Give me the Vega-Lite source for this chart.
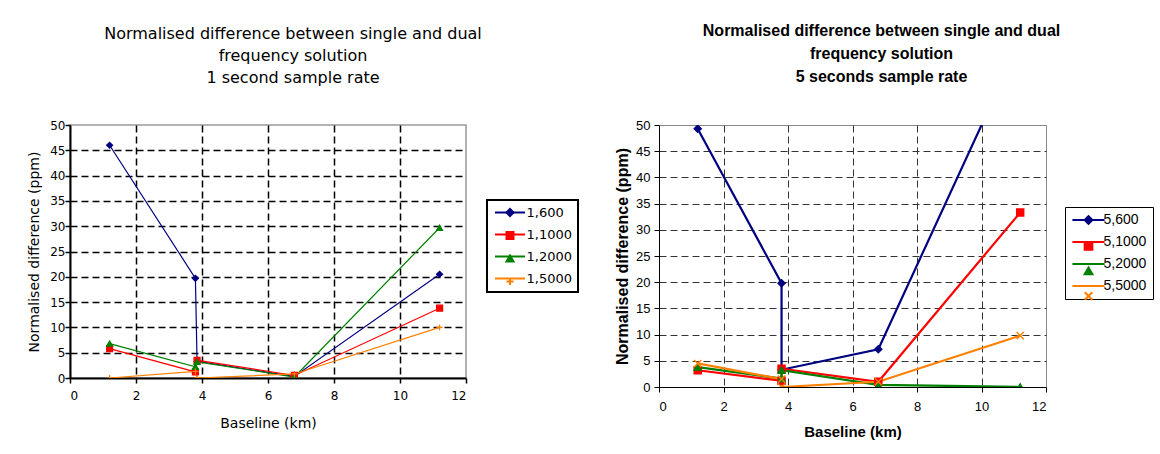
{
  "$schema": "https://vega.github.io/schema/vega-lite/v6.json",
  "background": "white",
  "padding": {"left": 26, "top": 22, "right": 3, "bottom": 5},
  "spacing": 34,
  "resolve": {
    "scale": {"color": "independent", "shape": "independent", "fill": "independent", "stroke": "independent"},
    "legend": {"color": "independent", "shape": "independent", "fill": "independent", "stroke": "independent"}
  },
  "datasets": {
    "s1": [
      {"s": "1,600", "m": "1,600", "k": 1, "i": 1, "x": 1.2, "y": 46.0},
      {"s": "1,600", "m": "1,600", "k": 1, "i": 2, "x": 3.8, "y": 19.7},
      {"s": "1,600", "m": "1,600", "k": 1, "i": 3, "x": 3.85, "y": 3.3},
      {"s": "1,600", "m": "1,600", "k": 1, "i": 4, "x": 6.8, "y": 0.3},
      {"s": "1,600", "m": "1,600", "k": 1, "i": 5, "x": 11.2, "y": 20.5},
      {"s": "1,1000", "m": "1,1000", "k": 2, "i": 1, "x": 1.2, "y": 5.8},
      {"s": "1,1000", "m": "1,1000", "k": 2, "i": 2, "x": 3.8, "y": 1.2},
      {"s": "1,1000", "m": "1,1000", "k": 2, "i": 3, "x": 3.85, "y": 3.5},
      {"s": "1,1000", "m": "1,1000", "k": 2, "i": 4, "x": 6.8, "y": 0.5},
      {"s": "1,1000", "m": "1,1000", "k": 2, "i": 5, "x": 11.2, "y": 13.8},
      {"s": "1,2000", "m": "1,2000", "k": 3, "i": 1, "x": 1.2, "y": 6.8},
      {"s": "1,2000", "m": "1,2000", "k": 3, "i": 2, "x": 3.8, "y": 2.2},
      {"s": "1,2000", "m": "1,2000", "k": 3, "i": 3, "x": 3.85, "y": 3.2},
      {"s": "1,2000", "m": "1,2000", "k": 3, "i": 4, "x": 6.8, "y": 0.2},
      {"s": "1,2000", "m": "1,2000", "k": 3, "i": 5, "x": 11.2, "y": 29.7},
      {"s": "1,5000", "m": "1,5000", "k": 4, "i": 1, "x": 1.2, "y": 0.0},
      {"s": "1,5000", "m": "1,5000", "k": 4, "i": 2, "x": 3.8, "y": 1.3},
      {"s": "1,5000", "m": "1,5000", "k": 4, "i": 3, "x": 3.85, "y": 0.0},
      {"s": "1,5000", "m": "1,5000", "k": 4, "i": 4, "x": 6.8, "y": 0.8},
      {"s": "1,5000", "m": "1,5000", "k": 4, "i": 5, "x": 11.2, "y": 10.0}
    ],
    "s5": [
      {"s": "5,600", "m": "5,600", "k": 1, "i": 1, "x": 1.2, "y": 49.3},
      {"s": "5,600", "m": "5,600", "k": 1, "i": 2, "x": 3.8, "y": 19.8},
      {"s": "5,600", "m": "5,600", "k": 1, "i": 3, "x": 3.8, "y": 3.3},
      {"s": "5,600", "m": "5,600", "k": 1, "i": 4, "x": 6.8, "y": 7.2},
      {"s": "5,600", "m": "5,600", "k": 1, "i": 5, "x": 11.2, "y": 66.0},
      {"s": "5,1000", "m": "5,1000", "k": 2, "i": 1, "x": 1.2, "y": 3.2},
      {"s": "5,1000", "m": "5,1000", "k": 2, "i": 2, "x": 3.8, "y": 1.2},
      {"s": "5,1000", "m": "5,1000", "k": 2, "i": 3, "x": 3.8, "y": 3.5},
      {"s": "5,1000", "m": "5,1000", "k": 2, "i": 4, "x": 6.8, "y": 1.0},
      {"s": "5,1000", "m": "5,1000", "k": 2, "i": 5, "x": 11.2, "y": 33.3},
      {"s": "5,2000", "m": "5,2000", "k": 3, "i": 1, "x": 1.2, "y": 3.8},
      {"s": "5,2000", "m": "5,2000", "k": 3, "i": 2, "x": 3.8, "y": 1.6},
      {"s": "5,2000", "m": "5,2000", "k": 3, "i": 3, "x": 3.8, "y": 3.2},
      {"s": "5,2000", "m": "5,2000", "k": 3, "i": 4, "x": 6.8, "y": 0.4},
      {"s": "5,2000", "m": "5,2000", "k": 3, "i": 5, "x": 11.2, "y": 0.0},
      {"s": "5,5000", "m": "5,5000", "k": 4, "i": 1, "x": 1.2, "y": 4.5},
      {"s": "5,5000", "m": "5,5000", "k": 4, "i": 2, "x": 3.8, "y": 1.5},
      {"s": "5,5000", "m": "5,5000", "k": 4, "i": 3, "x": 3.8, "y": 0.0},
      {"s": "5,5000", "m": "5,5000", "k": 4, "i": 4, "x": 6.8, "y": 1.0},
      {"s": "5,5000", "m": "5,5000", "k": 4, "i": 5, "x": 11.2, "y": 9.8}
    ]
  },
  "hconcat": [
    {
      "width": 396,
      "height": 253,
      "data": {"name": "s1"},
      "view": {"stroke": "#999999", "strokeWidth": 1.5},
      "title": {
        "text": ["Normalised difference between single and dual", "frequency solution", "1 second sample rate"],
        "font": "DejaVu Sans", "fontSize": 16, "fontWeight": "normal", "color": "black",
        "lineHeight": 22, "offset": 33, "anchor": "middle", "dx": 25
      },
      "encoding": {
        "x": {
          "field": "x", "type": "quantitative",
          "scale": {"domain": [0, 12], "nice": false},
          "axis": {
            "title": "Baseline (km)", "values": [0, 2, 4, 6, 8, 10, 12],
            "titleFont": "DejaVu Sans", "titleFontSize": 14, "titleFontWeight": "normal", "titleColor": "black", "titlePadding": 15,
            "labelFont": "DejaVu Sans", "labelFontSize": 12, "labelColor": "black", "labelPadding": 7,
            "domainColor": "black", "domainWidth": 2, "tickColor": "black", "tickSize": 5, "tickWidth": 1.5,
            "grid": true, "gridColor": "black", "gridDash": [7, 4], "gridWidth": 1.5,
            "gridOpacity": {"condition": {"test": "datum.value == 0 || datum.value == 12", "value": 0}, "value": 1}
          }
        },
        "y": {
          "field": "y", "type": "quantitative",
          "scale": {"domain": [0, 50], "nice": false},
          "axis": {
            "title": "Normalised difference (ppm)", "values": [0, 5, 10, 15, 20, 25, 30, 35, 40, 45, 50],
            "titleFont": "DejaVu Sans", "titleFontSize": 14, "titleFontWeight": "normal", "titleColor": "black", "titlePadding": 8,
            "labelFont": "DejaVu Sans", "labelFontSize": 12, "labelColor": "black", "labelPadding": 0,
            "domainColor": "black", "domainWidth": 2, "tickColor": "black", "tickSize": 5, "tickWidth": 1.5,
            "grid": true, "gridColor": "black", "gridDash": [7, 4], "gridWidth": 1.5,
            "gridOpacity": {"condition": {"test": "datum.value == 0 || datum.value == 50", "value": 0}, "value": 1}
          }
        }
      },
      "layer": [
        {
          "mark": {"type": "line", "strokeWidth": 1.2, "clip": true},
          "encoding": {
            "order": {"field": "i", "type": "quantitative"},
            "color": {
              "field": "s", "type": "nominal", "sort": {"field": "k", "op": "min"},
              "scale": {"range": ["#000080", "#FF0000", "#008000", "#FF8000"]},
              "legend": {
                "title": null, "orient": "none", "legendX": 417, "legendY": 75,
                "symbolType": "M-4.3,0L4.3,0", "symbolSize": 49, "symbolStrokeWidth": 2, "symbolOffset": 10.5,
                "labelFont": "DejaVu Sans", "labelFontSize": 13, "labelColor": "black",
                "strokeColor": "black", "padding": 6, "rowPadding": 8, "labelOffset": 10,
                "encode": {"legend": {"update": {"strokeWidth": {"value": 2}}}}
              }
            }
          }
        },
        {
          "mark": {"type": "point", "filled": true, "opacity": 1, "size": 36, "strokeWidth": 1.2, "clip": true},
          "encoding": {
            "shape": {
              "field": "m", "type": "nominal", "sort": {"field": "k", "op": "min"},
              "scale": {"range": ["diamond", "square", "triangle-up", "M0,-1L0,1M-1,0L1,0"]},
              "legend": {
                "title": null, "orient": "none", "legendX": 417, "legendY": 75,
                "symbolSize": 49, "symbolStrokeWidth": 2, "symbolOffset": 10.5,
                "labelFont": "DejaVu Sans", "labelFontSize": 13, "labelExpr": "' '",
                "padding": 6, "rowPadding": 8, "labelOffset": 10
              }
            },
            "fill": {
              "field": "m", "type": "nominal", "sort": {"field": "k", "op": "min"},
              "scale": {"range": ["#000080", "#FF0000", "#008000", "#FF8000"]},
              "legend": {
                "title": null, "orient": "none", "legendX": 417, "legendY": 75,
                "symbolSize": 49, "symbolStrokeWidth": 2, "symbolOffset": 10.5,
                "labelFont": "DejaVu Sans", "labelFontSize": 13, "labelExpr": "' '",
                "padding": 6, "rowPadding": 8, "labelOffset": 10
              }
            },
            "stroke": {
              "field": "m", "type": "nominal", "sort": {"field": "k", "op": "min"},
              "scale": {"range": ["#000080", "#FF0000", "#008000", "#FF8000"]},
              "legend": {
                "title": null, "orient": "none", "legendX": 417, "legendY": 75,
                "symbolSize": 49, "symbolStrokeWidth": 2, "symbolOffset": 10.5,
                "labelFont": "DejaVu Sans", "labelFontSize": 13, "labelExpr": "' '",
                "padding": 6, "rowPadding": 8, "labelOffset": 10
              }
            }
          }
        }
      ]
    },
    {
      "width": 387,
      "height": 262,
      "data": {"name": "s5"},
      "view": {"stroke": "#888888", "strokeWidth": 1},
      "title": {
        "text": ["Normalised difference between single and dual", "frequency solution", "5 seconds sample rate"],
        "font": "Liberation Sans", "fontSize": 16, "fontWeight": "bold", "color": "black",
        "lineHeight": 23, "offset": 34, "anchor": "middle", "dx": 29
      },
      "encoding": {
        "x": {
          "field": "x", "type": "quantitative",
          "scale": {"domain": [0, 12], "nice": false},
          "axis": {
            "title": "Baseline (km)", "values": [0, 2, 4, 6, 8, 10, 12],
            "titleFont": "Liberation Sans", "titleFontSize": 15, "titleFontWeight": "bold", "titleColor": "black", "titlePadding": 11,
            "labelFont": "Liberation Sans", "labelFontSize": 13, "labelColor": "black", "labelPadding": 8,
            "domainColor": "black", "domainWidth": 1, "tickColor": "black", "tickSize": 5, "tickWidth": 1,
            "grid": true, "gridColor": "#333333", "gridDash": [7, 4], "gridWidth": 1,
            "gridOpacity": {"condition": {"test": "datum.value == 0 || datum.value == 12", "value": 0}, "value": 1}
          }
        },
        "y": {
          "field": "y", "type": "quantitative",
          "scale": {"domain": [0, 50], "nice": false},
          "axis": {
            "title": "Normalised difference (ppm)", "values": [0, 5, 10, 15, 20, 25, 30, 35, 40, 45, 50],
            "titleFont": "Liberation Sans", "titleFontSize": 16, "titleFontWeight": "bold", "titleColor": "black", "titlePadding": 5,
            "labelFont": "Liberation Sans", "labelFontSize": 13, "labelColor": "black", "labelPadding": 4,
            "domainColor": "black", "domainWidth": 1, "tickColor": "black", "tickSize": 5, "tickWidth": 1,
            "grid": true, "gridColor": "#333333", "gridDash": [7, 4], "gridWidth": 1,
            "gridOpacity": {"condition": {"test": "datum.value == 0 || datum.value == 50", "value": 0}, "value": 1}
          }
        }
      },
      "layer": [
        {
          "mark": {"type": "line", "strokeWidth": 2.2, "clip": true},
          "encoding": {
            "order": {"field": "i", "type": "quantitative"},
            "color": {
              "field": "s", "type": "nominal", "sort": {"field": "k", "op": "min"},
              "scale": {"range": ["#000080", "#FF0000", "#008000", "#FF8000"]},
              "legend": {
                "title": null, "orient": "none", "legendX": 406, "legendY": 82,
                "symbolType": "M-4.3,0L4.3,0", "symbolSize": 56, "symbolStrokeWidth": 2.2, "symbolOffset": 10.5,
                "labelFont": "Liberation Sans", "labelFontSize": 14, "labelColor": "black",
                "strokeColor": "black", "padding": 6, "rowPadding": 8, "labelOffset": 8
              }
            }
          }
        },
        {
          "mark": {"type": "point", "filled": true, "opacity": 1, "size": 50, "strokeWidth": 1.4, "clip": true},
          "encoding": {
            "shape": {
              "field": "m", "type": "nominal", "sort": {"field": "k", "op": "min"},
              "scale": {"range": ["diamond", "square", "triangle-up", "M-1,-1L1,1M-1,1L1,-1"]},
              "legend": {
                "title": null, "orient": "none", "legendX": 406, "legendY": 82,
                "symbolSize": 56, "symbolStrokeWidth": 2.2, "symbolOffset": 10.5,
                "labelFont": "Liberation Sans", "labelFontSize": 14, "labelExpr": "' '",
                "padding": 6, "rowPadding": 8, "labelOffset": 8
              }
            },
            "fill": {
              "field": "m", "type": "nominal", "sort": {"field": "k", "op": "min"},
              "scale": {"range": ["#000080", "#FF0000", "#008000", "#FF8000"]},
              "legend": {
                "title": null, "orient": "none", "legendX": 406, "legendY": 82,
                "symbolSize": 56, "symbolStrokeWidth": 2.2, "symbolOffset": 10.5,
                "labelFont": "Liberation Sans", "labelFontSize": 14, "labelExpr": "' '",
                "padding": 6, "rowPadding": 8, "labelOffset": 8
              }
            },
            "stroke": {
              "field": "m", "type": "nominal", "sort": {"field": "k", "op": "min"},
              "scale": {"range": ["#000080", "#FF0000", "#008000", "#FF8000"]},
              "legend": {
                "title": null, "orient": "none", "legendX": 406, "legendY": 82,
                "symbolSize": 56, "symbolStrokeWidth": 2.2, "symbolOffset": 10.5,
                "labelFont": "Liberation Sans", "labelFontSize": 14, "labelExpr": "' '",
                "padding": 6, "rowPadding": 8, "labelOffset": 8
              }
            }
          }
        }
      ]
    }
  ]
}
